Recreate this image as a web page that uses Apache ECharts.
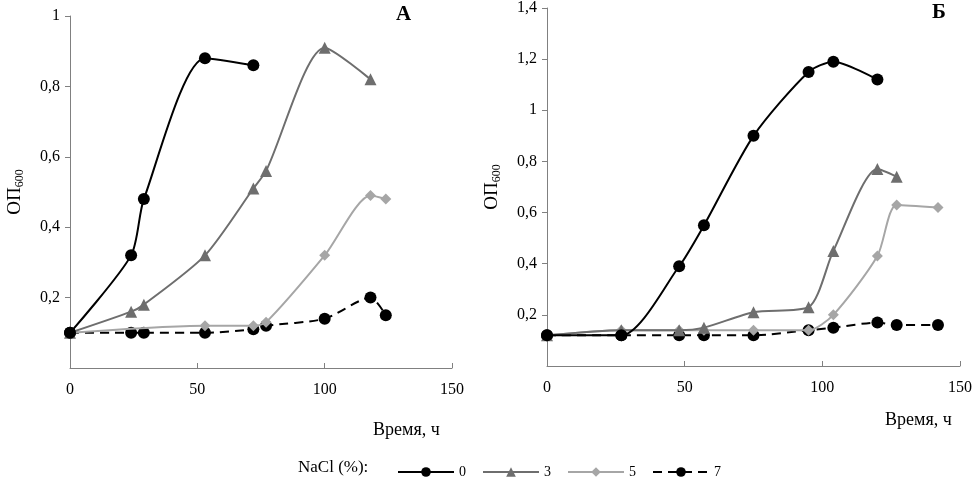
<!DOCTYPE html>
<html>
<head>
<meta charset="utf-8">
<script src="https://cdn.jsdelivr.net/npm/echarts@6/dist/echarts.min.js"></script>
<style>html,body{margin:0;padding:0;background:#fff}#c{width:980px;height:503px}</style>
</head>
<body>
<div id="c"></div>
<script>
var seriesNames = ['0', '3', '5', '7'];
// панель А
var a0 = [[0, 0.1], [24, 0.32], [29, 0.48], [53, 0.88], [72, 0.86]];
var a3 = [[0, 0.1], [24, 0.16], [29, 0.18], [53, 0.32], [72, 0.51], [77, 0.56], [100, 0.91], [118, 0.82]];
var a5 = [[0, 0.1], [53, 0.12], [72, 0.12], [77, 0.13], [100, 0.32], [118, 0.49], [124, 0.48]];
var a7 = [[0, 0.1], [24, 0.1], [29, 0.1], [53, 0.1], [72, 0.11], [77, 0.12], [100, 0.14], [118, 0.2], [124, 0.15]];
// панель Б
var b0 = [[0, 0.12], [27, 0.12], [48, 0.39], [57, 0.55], [75, 0.9], [95, 1.15], [104, 1.19], [120, 1.12]];
var b3 = [[0, 0.12], [27, 0.14], [48, 0.14], [57, 0.15], [75, 0.21], [95, 0.23], [104, 0.45], [120, 0.77], [127, 0.74]];
var b5 = [[0, 0.12], [27, 0.14], [48, 0.14], [57, 0.14], [75, 0.14], [95, 0.14], [104, 0.2], [120, 0.43], [127, 0.63], [142, 0.62]];
var b7 = [[0, 0.12], [27, 0.12], [48, 0.12], [57, 0.12], [75, 0.12], [95, 0.14], [104, 0.15], [120, 0.17], [127, 0.16], [142, 0.16]];

var font = 'Liberation Serif';
var styles = [
    {color: '#000', symbol: 'circle', size: 12, type: 'solid'},
    {color: '#6e6e6e', symbol: 'triangle', size: 12, type: 'solid'},
    {color: '#a6a6a6', symbol: 'diamond', size: 11, type: 'solid'},
    {color: '#000', symbol: 'circle', size: 12, type: [9, 6]}
];

function mkSeries(data, i, gi) {
    var s = styles[i];
    return {
        name: seriesNames[i], type: 'line', xAxisIndex: gi, yAxisIndex: gi,
        data: data, smooth: 0.25, symbol: s.symbol, symbolSize: s.size,
        itemStyle: {color: s.color}, lineStyle: {color: s.color, width: 2, type: s.type},
        z: 10 - i
    };
}

function xAx(gi) {
    return {
        type: 'value', gridIndex: gi, min: 0, max: 150, interval: 50,
        axisLine: {lineStyle: {color: '#808080'}}, axisTick: {inside: true, length: 5, lineStyle: {color: '#808080'}},
        splitLine: {show: false},
        axisLabel: {color: '#000', fontFamily: font, fontSize: 16, margin: 14}
    };
}
function yAx(gi, max) {
    return {
        type: 'value', gridIndex: gi, min: 0, max: max, interval: 0.2,
        axisLine: {show: true, lineStyle: {color: '#808080'}},
        axisTick: {show: true, length: 5, lineStyle: {color: '#808080'}},
        splitLine: {show: false},
        axisLabel: {color: '#000', fontFamily: font, fontSize: 16, showMinLabel: false, margin: 10,
            formatter: function (v) { return String(+v.toFixed(1)).replace('.', ','); }},
        name: '{m|ОП}{s|600}', nameLocation: 'middle', nameRotate: 90, nameGap: 44,
        nameTextStyle: {rich: {m: {fontFamily: font, fontSize: 19, color: '#000'},
            s: {fontFamily: font, fontSize: 12, color: '#000', verticalAlign: 'bottom', padding: [9, 0, 0, 0]}}}
    };
}

var chart = echarts.init(document.getElementById('c'));
chart.setOption({
    animation: false,
    grid: [
        {left: 70, right: 528, top: 16, bottom: 135},
        {left: 547, right: 20, top: 6, bottom: 137}
    ],
    xAxis: [xAx(0), xAx(1)],
    yAxis: [yAx(0, 1), yAx(1, 1.4)],
    legend: {
        top: 460, left: 392, itemWidth: 56, itemHeight: 12, itemGap: 16,
        data: seriesNames,
        textStyle: {fontFamily: font, fontSize: 14, color: '#000'}
    },
    graphic: [
        {type: 'text', left: 298, top: 459, style: {text: 'NaCl (%):', font: '17px "Liberation Serif"', fill: '#000'}},
        {type: 'text', left: 396, top: 4, style: {text: 'А', font: 'bold 21px "Liberation Serif"', fill: '#000'}},
        {type: 'text', left: 932, top: 2, style: {text: 'Б', font: 'bold 21px "Liberation Serif"', fill: '#000'}},
        {type: 'text', left: 373, top: 421, style: {text: 'Время, ч', font: '18px "Liberation Serif"', fill: '#000'}},
        {type: 'text', left: 885, top: 411, style: {text: 'Время, ч', font: '18px "Liberation Serif"', fill: '#000'}}
    ],
    series: [
        mkSeries(a0, 0, 0), mkSeries(a3, 1, 0), mkSeries(a5, 2, 0), mkSeries(a7, 3, 0),
        mkSeries(b0, 0, 1), mkSeries(b3, 1, 1), mkSeries(b5, 2, 1), mkSeries(b7, 3, 1)
    ]
});
</script>
</body>
</html>
